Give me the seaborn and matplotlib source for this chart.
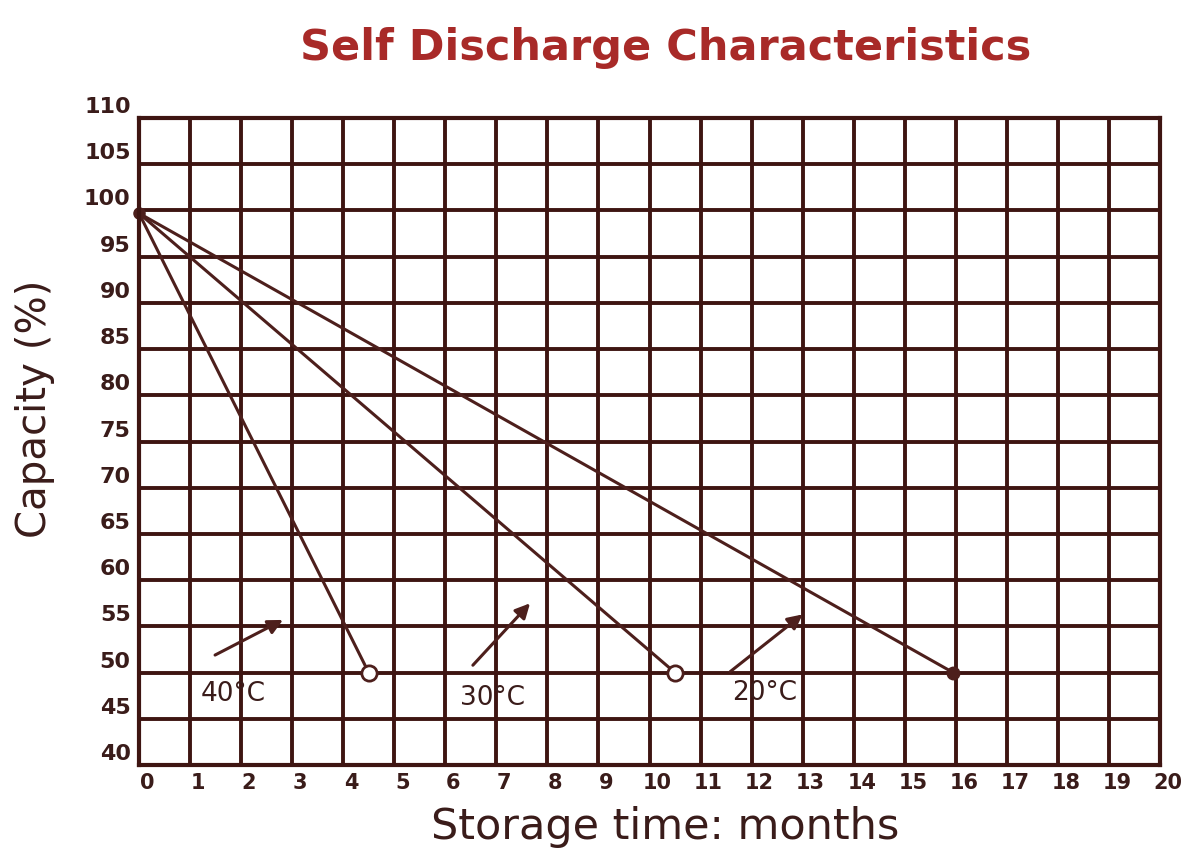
import numpy as np
import pandas as pd
import matplotlib
matplotlib.use("Agg")
import matplotlib.pyplot as plt
import matplotlib.transforms as mtrans
import seaborn as sns

# ---- data ----
temps = ["40°C", "30°C", "20°C"]
months_40 = [0.0, 4.5]
capacity_40 = [99.7, 50.0]
months_30 = [0.0, 10.5]
capacity_30 = [99.7, 50.0]
months_20 = [0.0, 15.95]
capacity_20 = [99.7, 50.0]

x_ticks = list(range(0, 21))
y_ticks = list(range(40, 111, 5))

df = pd.concat([
    pd.DataFrame({"month": months_40, "capacity": capacity_40, "temp": temps[0]}),
    pd.DataFrame({"month": months_30, "capacity": capacity_30, "temp": temps[1]}),
    pd.DataFrame({"month": months_20, "capacity": capacity_20, "temp": temps[2]}),
], ignore_index=True)

sns.set_style("white")
plt.rcParams["font.family"] = ["DejaVu Sans"]

BROWN = "#3e1512"
LINE = "#4d1f1c"
TEXT = "#3a1c1a"
TITLE = "#a82a28"

fig = plt.figure(figsize=(11.9, 8.51), dpi=100)
ax = fig.add_axes([0.1168, 0.101, 0.8580, 0.7603])

# grid
for x in x_ticks:
    ax.axvline(x, color=BROWN, lw=2.8, zorder=1)
for y in y_ticks:
    ax.axhline(y, color=BROWN, lw=2.8, zorder=1)

sns.lineplot(data=df, x="month", y="capacity", hue="temp",
             palette=[LINE] * 3, legend=False, lw=2.2, ax=ax, zorder=3,
             estimator=None, sort=False)

# start point
ax.plot([months_40[0]], [capacity_40[0]], "o", color=LINE, ms=8, zorder=4,
        clip_on=False)
# end markers
ax.plot([months_40[-1]], [capacity_40[-1]], "o", mfc="white", mec=LINE, mew=2,
        ms=11, zorder=4)
ax.plot([months_30[-1]], [capacity_30[-1]], "o", mfc="white", mec=LINE, mew=2,
        ms=11, zorder=4)
ax.plot([months_20[-1]], [capacity_20[-1]], "o", color=LINE, ms=9, zorder=4)

# arrows and labels
arrow_tails = [(1.49, 51.9), (6.54, 50.8), (11.58, 50.1)]
arrow_heads = [(2.82, 55.7), (7.66, 57.5), (13.0, 56.3)]
label_pos = [(1.84, 47.7), (6.93, 47.3), (12.26, 47.8)]
for t, tail, head, lp in zip(temps, arrow_tails, arrow_heads, label_pos):
    ax.annotate("", xy=head, xytext=tail,
                arrowprops=dict(arrowstyle="-|>", color=LINE, lw=2.2,
                                mutation_scale=22, shrinkA=0, shrinkB=0),
                zorder=5)
    ax.text(lp[0], lp[1], t, ha="center", va="center", fontsize=19,
            color=TEXT, zorder=5)

ax.set_xlim(0, 20)
ax.set_ylim(40, 110)
ax.set_xticks(x_ticks)
ax.set_yticks(y_ticks)
ax.set_xticklabels([str(v) for v in x_ticks], fontsize=15, color=TEXT,
                   fontweight="bold")
ax.set_yticklabels([str(v) for v in y_ticks], fontsize=16, color=TEXT,
                   fontweight="bold")
ax.tick_params(axis="both", length=0, pad=6)
# minor inward ticks at half steps
ax.set_xticks(np.arange(0.5, 20, 1.0), minor=True)
ax.set_yticks(np.arange(42.5, 110, 5.0), minor=True)
ax.tick_params(axis="x", which="minor", direction="in", length=6, width=2.5,
               color=BROWN)
ax.tick_params(axis="y", which="minor", direction="in", length=12, width=2.5,
               color=BROWN)

# offsets like the reference (labels sit slightly off the grid lines)
off_x = mtrans.ScaledTranslation(8 / 100, 0, fig.dpi_scale_trans)
for lab in ax.get_xticklabels():
    lab.set_transform(lab.get_transform() + off_x)
off_y = mtrans.ScaledTranslation(0, 13 / 100, fig.dpi_scale_trans)
for lab in ax.get_yticklabels():
    lab.set_transform(lab.get_transform() + off_y)

for s in ax.spines.values():
    s.set_color(BROWN)
    s.set_linewidth(3)
    s.set_zorder(6)

ax.set_xlabel("Storage time: months", fontsize=31, color=TEXT)
ax.xaxis.set_label_coords(0.515, -0.064)
ax.set_ylabel("Capacity (%)", fontsize=29, color=TEXT)
ax.yaxis.set_label_coords(-0.082, 0.55)

fig.text(0.559, 0.944, "Self Discharge Characteristics", ha="center",
         va="center", fontsize=31, fontweight="bold", color=TITLE)

fig.savefig("out.png", dpi=100, facecolor="white")
